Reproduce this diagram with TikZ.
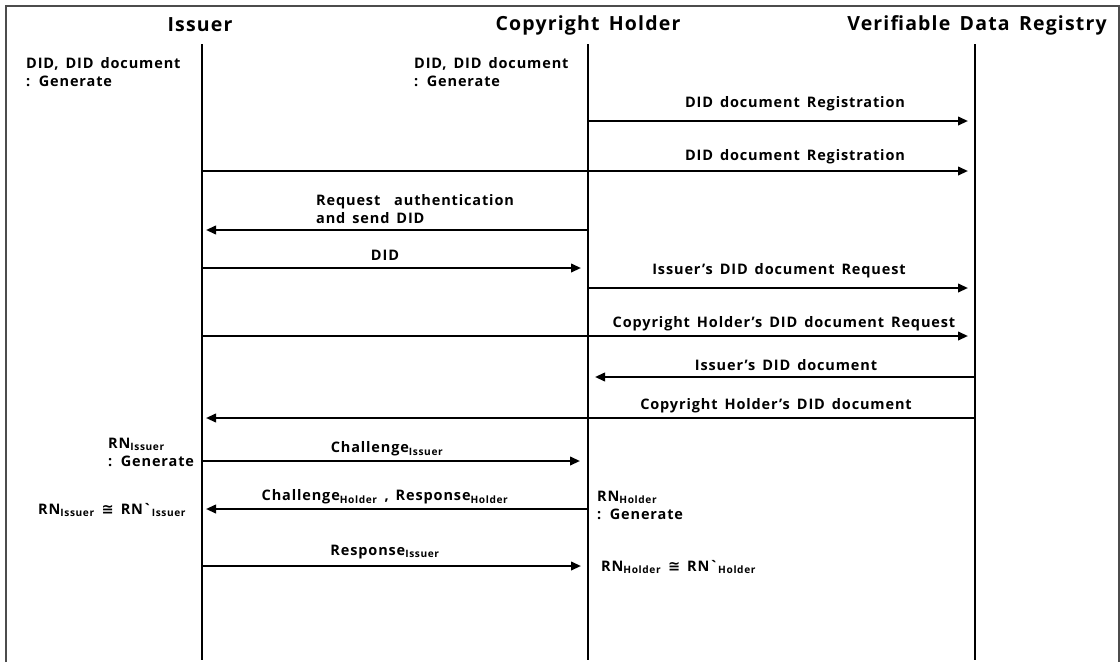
\documentclass[tikz,border=0pt]{standalone}
\usepackage{fontspec}
\setmainfont{Open Sans}[LetterSpace=6, WordSpace=1.5]
\newfontfamily\symfont{DejaVu Sans}
\usetikzlibrary{arrows.meta}
\newcommand{\approxeq}{\ {\symfont\char"2245}\ }
\begin{document}
\begin{tikzpicture}[x=1pt,y=-1pt,
  actor/.style={font=\fontsize{19.5}{22}\selectfont\bfseries, inner sep=0pt},
  msg/.style={font=\fontsize{14.5}{16}\selectfont\bfseries, inner sep=0pt},
  note/.style={font=\fontsize{14.5}{18}\selectfont\bfseries, inner sep=0pt, align=left},
  lifeline/.style={line width=2.6pt},
  call/.style={line width=2.2pt, -{Triangle[length=10pt,width=8.5pt]}},
  frame/.style={line width=1.2pt, draw=black!70}]
\useasboundingbox (0,0) rectangle (1120,662);
\draw[frame] (6,662) -- (6,6) -- (1119,6) -- (1119,662);

% participants
\node[actor] (iss) at (200,25) {Issuer};
\node[actor] (hol) at (588,25) {Copyright Holder};
\node[actor] (vdr) at (977,25) {Verifiable Data Registry};

% lifelines
\coordinate (issT) at (202,44);  \coordinate (issB) at (202,660);
\coordinate (holT) at (588,44);  \coordinate (holB) at (588,660);
\coordinate (vdrT) at (975,44);  \coordinate (vdrB) at (975,660);
\draw[lifeline] (issT) -- (issB);
\draw[lifeline] (holT) -- (holB);
\draw[lifeline] (vdrT) -- (vdrB);

% local steps
\node[note, anchor=west] (n1) at (26,72) {DID, DID document\\: Generate};
\node[note, anchor=west] (n2) at (414,72) {DID, DID document\\: Generate};

% messages
\coordinate (m1a) at (588,121); \coordinate (m1b) at (968,121);
\draw[call] (m1a) -- (m1b);
\node[msg] (l1) at (795,104) {DID document Registration};

\coordinate (m2a) at (202,171); \coordinate (m2b) at (968,171);
\draw[call] (m2a) -- (m2b);
\node[msg] (l2) at (795,157) {DID document Registration};

\coordinate (m3a) at (588,230); \coordinate (m3b) at (206,230);
\draw[call] (m3a) -- (m3b);
\node[note, anchor=west] (l3) at (316,209) {Request\ \ authentication\\and send DID};

\coordinate (m4a) at (202,268); \coordinate (m4b) at (581,268);
\draw[call] (m4a) -- (m4b);
\node[msg] (l4) at (385,255) {DID};

\coordinate (m5a) at (588,288); \coordinate (m5b) at (968,288);
\draw[call] (m5a) -- (m5b);
\node[msg] (l5) at (779,271) {Issuer's DID document Request};

\coordinate (m6a) at (202,336); \coordinate (m6b) at (968,336);
\draw[call] (m6a) -- (m6b);
\node[msg] (l6) at (784,324) {Copyright Holder's DID document Request};

\coordinate (m7a) at (975,377); \coordinate (m7b) at (595,377);
\draw[call] (m7a) -- (m7b);
\node[msg] (l7) at (786,365) {Issuer's DID document};

\coordinate (m8a) at (975,418); \coordinate (m8b) at (206,418);
\draw[call] (m8a) -- (m8b);
\node[msg] (l8) at (776,406) {Copyright Holder's DID document};

\coordinate (m9a) at (202,461); \coordinate (m9b) at (580,461);
\draw[call] (m9a) -- (m9b);
\node[msg] (l9) at (387,449) {Challenge\textsubscript{Issuer}};

\coordinate (m10a) at (588,509); \coordinate (m10b) at (206,509);
\draw[call] (m10a) -- (m10b);
\node[msg] (l10) at (385,497) {Challenge\textsubscript{Holder} , Response\textsubscript{Holder}};

\coordinate (m11a) at (202,566); \coordinate (m11b) at (581,566);
\draw[call] (m11a) -- (m11b);
\node[msg] (l11) at (385,552) {Response\textsubscript{Issuer}};

% random numbers
\node[note, anchor=west] (r1) at (108,452) {RN\textsubscript{Issuer}\\: Generate};
\node[note, anchor=west] (r2) at (38,510) {RN\textsubscript{Issuer}\approxeq RN\textasciigrave\textsubscript{Issuer}};
\node[note, anchor=west] (r3) at (597,505) {RN\textsubscript{Holder}\\: Generate};
\node[note, anchor=west] (r4) at (601,567) {RN\textsubscript{Holder}\approxeq RN\textasciigrave\textsubscript{Holder}};
\end{tikzpicture}
\end{document}
